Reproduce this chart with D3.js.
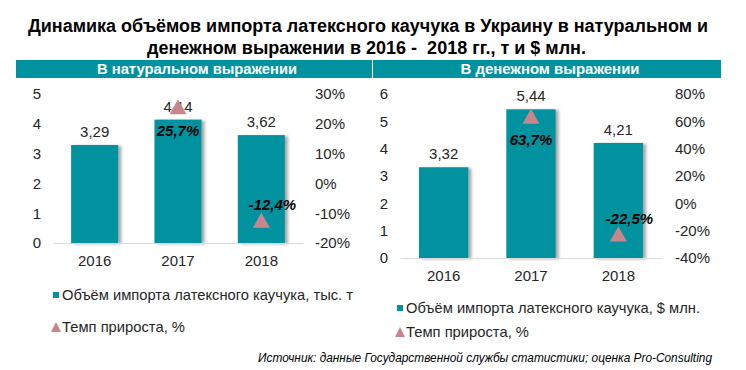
<!DOCTYPE html>
<html>
<head>
<meta charset="utf-8">
<script src="https://cdn.jsdelivr.net/npm/d3@7"></script>
<style>
  body { margin: 0; background: #fff; }
  text { font-family: "Liberation Sans", Arial, sans-serif; }
</style>
</head>
<body>
<script>
const years = ['2016', '2017', '2018'];
const volumeTons = [3.29, 4.14, 3.62];
const growthTons = [null, 25.7, -12.4];
const volumeUsd = [3.32, 5.44, 4.21];
const growthUsd = [null, 63.7, -22.5];
const tonsTicks = [0, 1, 2, 3, 4, 5];
const tonsPctTicks = [-20, -10, 0, 10, 20, 30];
const usdTicks = [0, 1, 2, 3, 4, 5, 6];
const usdPctTicks = [-40, -20, 0, 20, 40, 60, 80];

const titleLines = [
  'Динамика объёмов импорта латексного каучука в Украину в натуральном и',
  'денежном выражении в 2016 -  2018 гг., т и $ млн.'
];
const source = 'Источник: данные Государственной службы статистики; оценка Pro-Consulting';

const barColor = '#00929f';
const markerColor = '#c8868c';
const textColor = '#262626';

const locale = d3.formatLocale({ decimal: ',', thousands: ' ', grouping: [3], currency: ['', ''], minus: '-' });
const fmtValue = locale.format('.2f');
const fmtGrowth = (v) => locale.format('.1f')(v) + '%';

const svg = d3.select('body').append('svg')
  .attr('width', 746)
  .attr('height', 370);

const defs = svg.append('defs');
defs.append('filter')
  .attr('id', 'shadow')
  .attr('x', '-20%').attr('y', '-10%').attr('width', '150%').attr('height', '120%')
  .append('feDropShadow')
  .attr('dx', 3).attr('dy', 1).attr('stdDeviation', 1.5)
  .attr('flood-color', '#000').attr('flood-opacity', 0.35);

// title
svg.selectAll('.title')
  .data(titleLines)
  .enter().append('text')
  .attr('class', 'title')
  .attr('x', (d, i) => [28, 147][i])
  .attr('y', (d, i) => [32, 54][i])
  .attr('textLength', (d, i) => [680, 439][i])
  .attr('lengthAdjust', 'spacingAndGlyphs')
  .attr('style', 'font-size: 18px; font-weight: bold; fill: #000; white-space: pre;')
  .text((d) => d);

const panels = [
  {
    header: 'В натуральном выражении', band: [16, 372], headerLen: 200,
    values: volumeTons, growth: growthTons, ticks: tonsTicks, pctTicks: tonsPctTicks,
    x: [53, 303], y: [243, 94], leftAxisX: 45, rightAxisX: 311,
    legendX: 51, legendY: [295, 327], legendText: 'Объём импорта латексного каучука, тыс. т', legendLen: [291, 123]
  },
  {
    header: 'В денежном выражении', band: [373, 721], headerLen: 179,
    values: volumeUsd, growth: growthUsd, ticks: usdTicks, pctTicks: usdPctTicks,
    x: [400, 662], y: [258, 94], leftAxisX: 392, rightAxisX: 671,
    legendX: 395, legendY: [308, 332], legendText: 'Объём импорта латексного каучука, $ млн.', legendLen: [294, 123]
  }
];

function triangle(w, h) {
  return `M0,${-h / 2}L${w / 2},${h / 2}L${-w / 2},${h / 2}Z`;
}

function drawPanel(p) {
  const g = svg.append('g');

  g.append('rect')
    .attr('x', p.band[0]).attr('y', 60)
    .attr('width', p.band[1] - p.band[0]).attr('height', 18)
    .attr('fill', '#00939f');
  g.append('text')
    .attr('x', (p.band[0] + p.band[1]) / 2 + 3)
    .attr('y', 74)
    .attr('text-anchor', 'middle')
    .attr('textLength', p.headerLen)
    .attr('lengthAdjust', 'spacingAndGlyphs')
    .attr('style', 'font-size: 14px; font-weight: bold; fill: #fff;')
    .text(p.header);

  const x = d3.scaleBand().domain(years).range(p.x).paddingInner(0.435).paddingOuter(0.2175);
  const y = d3.scaleLinear().domain(d3.extent(p.ticks)).range(p.y);
  const y2 = d3.scaleLinear().domain(d3.extent(p.pctTicks)).range(p.y);

  // left axis
  const la = g.append('g')
    .attr('transform', `translate(${p.leftAxisX},0)`)
    .call(d3.axisLeft(y).tickValues(p.ticks).tickSize(0).tickPadding(4).tickFormat(d3.format('d')));
  la.select('.domain').remove();

  // right axis
  const ra = g.append('g')
    .attr('transform', `translate(${p.rightAxisX},0)`)
    .call(d3.axisRight(y2).tickValues(p.pctTicks).tickSize(0).tickPadding(4).tickFormat((d) => d + '%'));
  ra.select('.domain').remove();

  // bars
  g.selectAll('.bar')
    .data(p.values)
    .enter().append('rect')
    .attr('class', 'bar')
    .attr('x', (d, i) => x(years[i]))
    .attr('y', (d) => y(d))
    .attr('width', x.bandwidth())
    .attr('height', (d) => y(0) - y(d))
    .attr('fill', barColor)
    .attr('filter', 'url(#shadow)');

  // x axis
  const xa = g.append('g')
    .attr('transform', `translate(0,${y(0)})`)
    .call(d3.axisBottom(x).tickSize(0).tickSizeOuter(0).tickPadding(12));
  xa.select('.domain').attr('stroke', '#d9d9d9').attr('stroke-width', 1);

  [la, ra, xa].forEach((a) => a.selectAll('text')
    .attr('style', `font-size: 15px; fill: ${textColor}; font-family: "Liberation Sans", Arial, sans-serif;`));

  // value labels
  g.selectAll('.val')
    .data(p.values)
    .enter().append('text')
    .attr('x', (d, i) => x(years[i]) + x.bandwidth() / 2)
    .attr('y', (d) => y(d) - 8)
    .attr('text-anchor', 'middle')
    .attr('style', `font-size: 15px; fill: ${textColor};`)
    .text((d) => fmtValue(d));

  // growth markers
  const growth = p.growth.map((v, i) => ({ v, year: years[i] })).filter((d) => d.v !== null);

  g.selectAll('.marker')
    .data(growth)
    .enter().append('path')
    .attr('d', triangle(17, 15))
    .attr('transform', (d) => `translate(${x(d.year) + x.bandwidth() / 2},${y2(d.v)})`)
    .attr('fill', markerColor);

  g.selectAll('.growth')
    .data(growth)
    .enter().append('text')
    .attr('x', (d) => x(d.year) + x.bandwidth() / 2 + (d.v < 0 ? 11 : 0))
    .attr('y', (d) => y2(d.v) + (d.v < 0 ? -10 : 29))
    .attr('text-anchor', 'middle')
    .attr('style', 'font-size: 15px; font-weight: bold; font-style: italic; fill: #000;')
    .text((d) => fmtGrowth(d.v));

  // legend
  g.append('rect')
    .attr('x', p.legendX + 2).attr('y', p.legendY[0] - 3)
    .attr('width', 6).attr('height', 6)
    .attr('fill', barColor);
  g.append('path')
    .attr('d', triangle(10, 10))
    .attr('transform', `translate(${p.legendX + 5},${p.legendY[1]})`)
    .attr('fill', markerColor);
  g.selectAll('.legend')
    .data([p.legendText, 'Темп прироста, %'])
    .enter().append('text')
    .attr('x', p.legendX + 11)
    .attr('y', (d, i) => p.legendY[i] + 5)
    .attr('textLength', (d, i) => p.legendLen[i])
    .attr('lengthAdjust', 'spacingAndGlyphs')
    .attr('style', `font-size: 15px; fill: ${textColor};`)
    .text((d) => d);
}

panels.forEach(drawPanel);

svg.append('text')
  .attr('x', 258)
  .attr('y', 362)
  .attr('textLength', 454)
  .attr('lengthAdjust', 'spacingAndGlyphs')
  .attr('style', 'font-size: 12px; font-style: italic; fill: #000;')
  .text(source);
</script>
</body>
</html>
